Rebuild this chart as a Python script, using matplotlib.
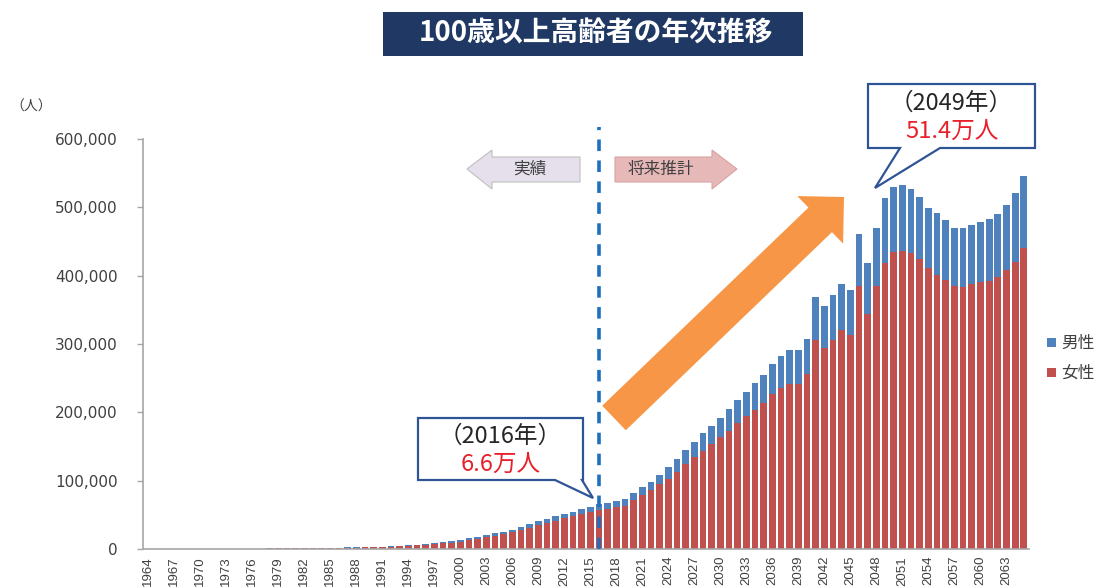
import numpy as np
import matplotlib
matplotlib.use("Agg")
import matplotlib.pyplot as plt
from matplotlib.patches import FancyArrow, Polygon, Rectangle
from matplotlib.transforms import Affine2D
from matplotlib.ticker import FuncFormatter, MultipleLocator

plt.rcParams['font.family'] = ['Noto Sans CJK JP', 'DejaVu Sans']

years = list(range(1964, 2066))

female = [
    151, 162, 203, 264, 275, 300, 248, 275, 327, 408,
    348, 446, 551, 581, 731, 775, 794, 883, 1111, 1123,
    1276, 1381, 1487, 1807, 2143, 2488, 2618, 2896, 3333, 3882,
    4583, 5239, 6092, 7052, 8500, 9491, 10878, 12934, 15059, 17402,
    19515, 21775, 24245, 27682, 31213, 34952, 38580, 41594, 44842, 47606,
    51234, 53727, 57525,
    58100, 61000, 63400, 71700, 78600, 85900, 94700, 103000, 113200, 124400,
    135200, 143900, 153700, 163500, 173200, 184000, 194700, 203500, 213500, 226900,
    235200, 241100, 242000, 255700, 306000, 294800, 306000, 320600, 313300, 385000,
    344000, 385000, 419200, 434000, 436800, 432800, 424100, 410900, 401100, 393800,
    385000, 384100, 388000, 390400, 392900, 398700, 408500, 420700, 440200,
]

male = [
    40, 36, 49, 63, 64, 64, 62, 64, 78, 87,
    79, 102, 115, 119, 156, 162, 174, 189, 243, 231,
    291, 359, 364, 464, 525, 590, 680, 729, 819, 920,
    1010, 1139, 1281, 1439, 1658, 1855, 2158, 2541, 2875, 3159,
    3523, 3779, 4150, 4613, 5063, 5447, 5869, 6162, 6534, 6791,
    7586, 7841, 8167,
    9700, 9300, 9300, 10800, 11700, 12700, 13600, 16600, 18100, 20600,
    21900, 25500, 26800, 28700, 31300, 34100, 35600, 39100, 41800, 43900,
    47800, 49800, 49800, 52200, 62400, 61000, 65400, 67900, 65900, 75700,
    74200, 85400, 94800, 96000, 96100, 93700, 91700, 88800, 90300, 87900,
    85400, 85300, 86300, 88800, 90200, 91700, 95100, 100000, 105900,
]

tick_years = list(range(1964, 2066, 3))
series_labels = ['男性', '女性']
title_text = '100歳以上高齢者の年次推移'
unit_text = '（人）'
past_label = '実績'
future_label = '将来推計'
base_year = 2016
peak_year = 2049
callouts = {base_year: ('（2016年）', '6.6万人'), peak_year: ('（2049年）', '51.4万人')}

C_FEMALE = '#C0504D'
C_MALE = '#4F81BD'
W, H = 1103, 588

fig = plt.figure(figsize=(W / 100, H / 100), dpi=100)
ax = fig.add_axes([143 / W, 1 - 549 / H, 886 / W, 410 / H])

x = np.array(years)
f = np.array(female)
m = np.array(male)
ax.bar(x, f, width=0.78, color=C_FEMALE, linewidth=0, zorder=2)
ax.bar(x, m, bottom=f, width=0.78, color=C_MALE, linewidth=0, zorder=2)

ax.set_xlim(1963.4, 2065.6)
ax.set_ylim(0, 600000)
ax.yaxis.set_major_locator(MultipleLocator(100000))
ax.yaxis.set_major_formatter(FuncFormatter(lambda v, p: f'{int(v):,}'))
ax.set_xticks(tick_years)
ax.set_xticklabels([str(y) for y in tick_years], rotation=90, fontsize=9.5,
                   family='Liberation Sans', color='#404040')
ax.tick_params(axis='x', length=0, pad=5)
ax.tick_params(axis='y', length=4, width=1, color='#A6A6A6', pad=14,
               labelsize=11, labelcolor='#404040')
for lab in ax.get_yticklabels():
    lab.set_family('DejaVu Sans')
for s in ['top', 'right']:
    ax.spines[s].set_visible(False)
for s in ['left', 'bottom']:
    ax.spines[s].set_color('#A6A6A6')
    ax.spines[s].set_linewidth(1.2)

# dividing line between observed and projected values
ax.axvline(base_year, ymin=0, ymax=1.03, color='#1F6FC0', lw=2.6,
           linestyle=(0, (3.2, 2.6)), zorder=3, clip_on=False)

# pixel transform with origin at top-left of the figure
px = Affine2D().scale(1, -1).translate(0, H).scale(1 / W, 1 / H) + fig.transFigure

# title banner
fig.patches.append(Rectangle((383, 12), 420, 44, transform=px,
                             facecolor='#1F3864', edgecolor='none'))
fig.text(596 / W, 1 - 33 / H, title_text, color='white', fontsize=20,
         fontweight='bold', ha='center', va='center')

fig.text(10 / W, 1 - 107 / H, unit_text, fontsize=10, color='#404040',
         ha='left', va='center')

# past / future direction arrows
left_arrow = Polygon([(467, 169), (492, 150), (492, 157), (580, 157),
                      (580, 182), (492, 182), (492, 189)], closed=True,
                     transform=px, facecolor='#E6E0EC', edgecolor='#BFBFBF', lw=0.8)
right_arrow = Polygon([(615, 157), (712, 157), (712, 150), (737, 169),
                       (712, 189), (712, 182), (615, 182)], closed=True,
                      transform=px, facecolor='#E6B9B8', edgecolor='#D9A3A2', lw=0.8)
fig.patches.extend([left_arrow, right_arrow])
fig.text(530 / W, 1 - 169 / H, past_label, fontsize=12, color='#404040',
         ha='center', va='center')
fig.text(661 / W, 1 - 169 / H, future_label, fontsize=12, color='#404040',
         ha='center', va='center')

# orange trend arrow
fig.patches.append(FancyArrow(614, 418, 230, -221, width=34, head_width=66,
                              head_length=33, length_includes_head=True,
                              transform=px, facecolor='#F79646',
                              edgecolor='none'))

# callout boxes
def callout(box, tail, tip, lines):
    x0, y0, x1, y1 = box
    pts = [(x0, y0), (x1, y0), (x1, y1), (tail[1], y1), tip, (tail[0], y1), (x0, y1)]
    fig.patches.append(Polygon(pts, closed=True, transform=px, facecolor='white',
                               edgecolor='#2F5496', lw=1.6, zorder=5))
    cx = (x0 + x1) / 2
    h = y1 - y0
    fig.text(cx / W, 1 - (y0 + h * 0.30) / H, lines[0], fontsize=17,
             color='#262626', ha='center', va='center', zorder=6)
    fig.text(cx / W, 1 - (y0 + h * 0.74) / H, lines[1], fontsize=17,
             color='#E8202A', ha='center', va='center', zorder=6)

callout((418, 418, 583, 480), (555, 582), (593, 498), callouts[base_year])
callout((868, 84, 1035, 148), (900, 940), (875, 188), callouts[peak_year])

# legend
fig.patches.append(Rectangle((1047, 338), 9, 9, transform=px, facecolor=C_MALE))
fig.patches.append(Rectangle((1047, 368), 9, 9, transform=px, facecolor=C_FEMALE))
fig.text(1061 / W, 1 - 343 / H, series_labels[0], fontsize=12, color='#404040',
         ha='left', va='center')
fig.text(1061 / W, 1 - 373 / H, series_labels[1], fontsize=12, color='#404040',
         ha='left', va='center')

fig.savefig('out.png', dpi=100)
